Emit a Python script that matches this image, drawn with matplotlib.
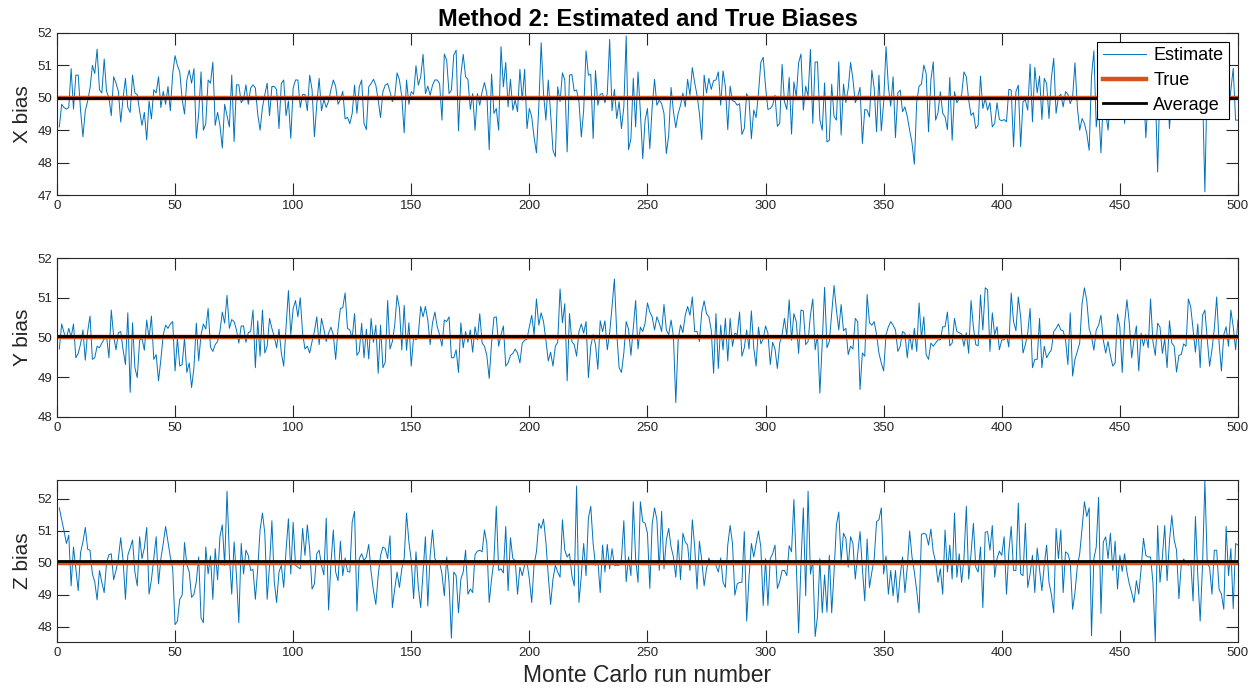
import numpy as np
import matplotlib
matplotlib.use("Agg")
import matplotlib.pyplot as plt

# ---- data (Monte Carlo runs, in 4 chunks per panel) ----
x_bias_1 = [49.1, 49.8, 49.7, 49.65, 49.7, 50.9, 49.65, 50.7, 50.7, 49.6, 48.8, 49.6, 49.9, 50.3, 51.0,
            50.75, 51.5, 50.25, 50.15, 51.2, 50.2, 50.0, 49.45, 50.65, 50.45, 50.2, 49.25, 50.0, 50.6, 49.7,
            49.55, 50.7, 50.15, 50.1, 49.6, 49.15, 49.55, 48.7, 49.9, 49.35, 50.25, 50.15, 50.65, 49.7, 50.2,
            49.8, 50.35, 49.6, 50.75, 51.3, 51.0, 50.8, 49.95, 49.5, 50.55, 50.85, 50.45, 50.9, 48.75, 49.5,
            50.8, 49.0, 49.2, 50.55, 50.45, 51.1, 49.15, 49.55, 49.15, 48.45, 49.8, 49.45, 49.1, 50.7, 48.65,
            50.4, 50.4, 49.85, 49.95, 50.4, 49.8, 50.3, 50.4, 50.3, 49.5, 49.0, 49.7, 50.1, 50.45, 49.45,
            50.35, 50.35, 50.25, 49.05, 50.45, 50.55, 49.45, 49.9, 48.75, 50.3, 50.55, 50.55, 49.7, 50.1, 50.1,
            49.6, 50.7, 50.25, 48.8, 49.8, 50.6, 49.6, 49.95, 49.7, 49.9, 50.25, 50.55, 50.35, 49.8, 49.95,
            50.2, 49.35, 49.4, 49.2]
x_bias_2 = [49.52, 50.39, 49.52, 50.34, 50.55, 49.21, 49.02, 50.34, 50.44, 50.57, 50.39, 49.93, 49.39, 50.19,
            50.39, 50.44, 50.19, 49.88, 50.03, 50.77, 50.55, 50.03, 48.92, 50.55, 49.80, 50.19, 50.11, 50.99,
            50.39, 50.65, 51.34, 50.13, 50.36, 50.08, 50.39, 50.55, 50.55, 50.44, 49.31, 51.35, 51.16, 50.13,
            50.24, 51.32, 51.47, 48.98, 50.70, 51.34, 50.65, 50.57, 49.64, 50.13, 49.0, 50.13, 49.77, 50.19,
            50.47, 50.13, 48.40, 50.73, 49.52, 49.67, 49.0, 51.58, 50.34, 51.09, 49.72, 50.57, 49.62, 49.93,
            49.57, 50.88, 49.93, 50.88, 49.05, 49.67, 49.41, 48.79, 48.30, 49.72, 51.70, 50.13, 49.31, 50.55,
            49.52, 48.38, 48.18, 50.34, 49.88, 50.77, 50.55, 48.33, 50.70, 50.72, 50.21, 50.24, 49.88, 48.79,
            49.62, 51.45, 50.70, 50.72, 48.74, 50.84, 49.77, 50.11, 50.13, 49.85, 50.13, 51.80, 49.60, 50.26,
            49.36, 49.88, 49.05, 49.72, 51.91, 48.40, 48.74, 50.60, 49.10, 50.80, 49.57, 48.12, 49.31, 49.67]
x_bias_3 = [48.43, 49.72, 50.57, 49.77, 49.93, 49.82, 49.52, 48.28, 48.85, 50.32, 49.57, 49.08, 49.52, 49.77,
            50.15, 49.72, 50.57, 50.08, 50.93, 50.46, 50.08, 49.52, 48.71, 50.70, 50.15, 50.60, 50.26, 50.53,
            50.55, 50.80, 49.77, 50.83, 50.34, 49.02, 50.36, 49.91, 49.88, 49.77, 49.82, 48.87, 49.05, 50.13,
            49.95, 48.74, 49.62, 49.39, 50.15, 51.09, 51.25, 50.34, 49.64, 49.67, 49.77, 50.08, 49.12, 49.21,
            51.03, 49.88, 49.64, 50.63, 48.88, 50.49, 50.03, 51.08, 51.35, 49.62, 50.36, 50.05, 51.49, 49.21,
            51.10, 51.11, 49.31, 49.0, 50.46, 48.64, 48.69, 50.42, 49.43, 49.31, 51.11, 48.85, 50.42, 49.85,
            50.29, 51.09, 50.57, 49.85, 50.03, 50.32, 48.59, 49.64, 49.62, 49.41, 50.85, 50.29, 48.95, 50.70,
            48.98, 49.85, 51.58, 50.34, 49.74, 50.65, 48.77, 50.15, 50.24, 49.57, 49.72, 49.43, 49.0, 48.61,
            47.95, 49.88, 50.36, 50.42, 51.01, 50.75, 48.95, 50.55, 51.11, 49.31, 49.54, 50.19, 49.52, 49.41,
            49.02, 50.63, 48.69]
x_bias_4 = [49.05, 50.65, 48.69, 50.19, 50.88, 49.08, 50.13, 50.22, 50.19, 49.85, 49.98, 50.08, 50.80, 50.65,
            49.93, 49.46, 49.54, 49.05, 49.16, 50.67, 49.67, 49.98, 49.62, 49.85, 49.10, 49.21, 49.85, 49.33,
            49.29, 49.33, 49.26, 50.26, 50.24, 48.49, 50.19, 50.39, 48.49, 49.88, 49.93, 49.62, 51.04, 49.26,
            50.94, 50.15, 50.67, 49.33, 50.60, 50.44, 49.36, 50.60, 51.22, 49.52, 50.03, 50.11, 49.72, 50.19,
            50.11, 49.82, 50.03, 51.08, 49.72, 49.0, 49.36, 49.21, 48.90, 48.38, 50.67, 51.45, 49.10, 49.72,
            48.30, 49.98, 49.57, 49.0, 50.03, 50.55, 49.72, 50.24, 49.62, 50.85, 49.21, 50.24, 49.52, 50.44,
            49.82, 50.75, 50.13, 49.52, 50.34, 48.77, 50.03, 50.65, 49.52, 50.24, 47.71, 50.44, 49.72, 50.03,
            50.75, 49.05, 50.13, 49.52, 50.55, 49.82, 50.24, 49.41, 50.85, 50.03, 49.62, 50.34, 49.72, 50.55,
            49.41, 50.24, 47.10, 50.75, 49.93, 49.62, 50.44, 49.52, 50.03, 50.65, 49.72, 50.24, 49.52, 50.24,
            50.91, 49.31, 49.31]

y_bias_1 = [49.71, 50.34, 50.12, 49.98, 50.23, 50.01, 50.34, 49.49, 49.60, 49.84, 50.19, 49.43, 50.15, 50.54,
            49.45, 49.49, 49.78, 49.74, 49.86, 49.96, 50.04, 49.49, 50.69, 50.04, 49.69, 50.12, 50.15, 49.69,
            49.32, 50.62, 48.62, 50.37, 49.24, 48.99, 49.93, 49.98, 49.68, 50.44, 49.98, 50.54, 49.45, 49.57,
            48.91, 49.45, 50.07, 50.31, 50.23, 50.34, 50.40, 49.16, 49.98, 49.28, 49.32, 49.98, 49.12, 49.36,
            48.74, 49.24, 50.36, 49.41, 50.07, 50.34, 50.21, 50.73, 49.76, 49.65, 49.82, 49.90, 50.15, 50.64,
            50.36, 51.06, 50.23, 50.45, 50.40, 50.19, 49.86, 50.29, 50.29, 49.88, 50.12, 50.15, 50.69, 49.24,
            50.42, 49.53, 50.69, 49.61, 49.78, 50.48, 50.23, 50.02, 49.74, 50.21, 49.61, 49.28, 50.27, 51.18,
            50.07, 50.73, 50.93, 50.52, 51.0, 50.11, 49.71, 49.78, 49.61, 49.90, 50.15, 50.52, 49.82, 50.48,
            50.21, 49.90, 50.11, 50.26, 50.07, 49.45, 50.21, 50.73, 50.75, 51.12, 50.23, 50.19]
y_bias_2 = [49.98, 50.60, 49.55, 49.65, 50.36, 49.49, 50.21, 49.46, 50.48, 49.88, 50.31, 49.10, 50.31, 49.24,
            49.38, 50.93, 49.71, 49.90, 50.31, 51.06, 50.73, 49.69, 50.81, 49.68, 50.37, 49.28, 50.02, 49.94,
            50.07, 50.78, 50.52, 50.78, 50.44, 49.82, 50.37, 50.64, 50.27, 50.07, 49.78, 50.44, 50.40, 50.52,
            49.49, 49.49, 49.69, 49.12, 50.37, 49.74, 50.15, 49.88, 50.19, 49.63, 50.27, 49.94, 50.60, 49.86,
            49.78, 49.55, 48.97, 49.86, 50.50, 50.52, 49.78, 50.07, 50.29, 49.28, 49.36, 49.55, 49.60, 49.71,
            49.61, 49.36, 49.86, 49.93, 49.96, 50.27, 50.56, 50.07, 50.97, 50.31, 50.62, 50.40, 49.94, 49.41,
            49.63, 49.28, 49.78, 49.88, 51.22, 50.37, 50.85, 48.91, 50.60, 49.90, 49.82, 49.53, 50.15, 50.34,
            50.11, 50.40, 48.99, 49.78, 50.07, 49.82, 49.20, 50.42, 50.15, 50.42, 49.69, 50.12, 50.77, 51.47,
            50.11, 49.24, 49.12, 49.61, 50.40, 50.21, 49.55, 50.23, 50.93, 49.71, 50.26, 50.15, 50.36, 50.87,
            50.64, 50.52, 50.19]
y_bias_3 = [50.52, 50.36, 50.15, 50.83, 50.19, 50.07, 50.44, 50.02, 48.36, 49.94, 50.31, 50.12, 50.56, 50.78,
            50.56, 51.02, 50.15, 50.15, 49.90, 50.64, 50.92, 50.60, 50.52, 50.19, 49.10, 50.60, 49.22, 50.31,
            49.69, 50.48, 49.41, 50.48, 49.78, 50.11, 50.07, 50.64, 49.53, 49.74, 50.19, 49.71, 50.67, 49.74,
            49.28, 50.26, 49.84, 49.96, 50.29, 50.11, 49.32, 49.88, 49.71, 49.22, 49.86, 50.07, 50.48, 50.04,
            50.95, 49.93, 50.60, 50.40, 49.60, 50.69, 50.67, 49.82, 49.90, 50.56, 50.97, 49.69, 50.07, 48.60,
            49.86, 51.26, 49.74, 49.90, 50.60, 51.31, 50.69, 50.19, 50.83, 50.17, 50.23, 49.57, 49.78, 49.71,
            50.48, 50.40, 48.69, 49.61, 49.53, 51.08, 50.37, 50.31, 50.40, 50.07, 49.61, 49.36, 49.16, 50.07,
            50.27, 50.40, 50.31, 50.19, 49.65, 49.78, 50.15, 50.11, 49.49, 50.07, 49.69, 50.23, 49.65, 50.87,
            49.98, 50.52, 49.57, 49.45, 49.86, 49.78, 49.86, 49.94, 49.94, 50.27, 50.27, 50.64, 49.79, 49.86,
            50.48, 50.15, 50.12, 50.09]
y_bias_4 = [50.07, 50.12, 50.02, 49.78, 49.28, 50.11, 50.69, 49.86, 50.21, 50.12, 50.19, 50.52, 50.15, 49.78,
            50.12, 49.60, 50.93, 50.26, 49.82, 49.79, 51.07, 50.19, 51.25, 51.20, 49.65, 50.62, 50.07, 50.27,
            49.69, 49.94, 49.94, 50.07, 49.76, 51.12, 50.40, 50.17, 51.02, 50.52, 49.61, 49.82, 50.11, 50.73,
            49.24, 49.45, 49.45, 50.48, 49.24, 49.78, 49.49, 49.60, 49.69, 50.15, 50.23, 50.34, 50.19, 50.17,
            49.94, 49.32, 50.62, 49.03, 49.45, 49.65, 49.86, 50.85, 51.25, 50.93, 50.23, 50.02, 49.68, 50.19,
            50.31, 50.56, 49.93, 49.61, 49.90, 49.55, 49.28, 49.36, 50.59, 50.27, 49.12, 50.37, 50.95, 50.36,
            49.49, 49.94, 50.29, 49.16, 50.11, 49.79, 50.07, 49.74, 50.97, 49.90, 49.55, 50.36, 50.26, 49.60,
            49.96, 49.24, 50.42, 49.86, 49.78, 49.13, 49.55, 49.57, 49.84, 49.78, 50.97, 50.77, 50.19, 49.63,
            50.34, 49.24, 50.56, 50.69, 49.96, 49.28, 49.69, 50.23, 51.02, 49.88, 49.16, 50.07, 50.27, 49.78,
            50.69, 50.27, 49.69, 50.44]

z_bias_1 = [51.71, 51.34, 50.99, 50.60, 50.86, 49.28, 50.49, 49.81, 49.13, 50.32, 50.65, 51.10, 50.42, 50.39,
            49.65, 49.41, 48.84, 49.76, 49.39, 49.07, 50.0, 50.25, 50.28, 49.47, 49.76, 50.13, 50.78, 50.07,
            48.86, 50.23, 50.46, 50.71, 49.71, 49.28, 50.81, 50.13, 50.46, 51.10, 49.02, 49.47, 50.13, 50.81,
            49.34, 50.13, 50.60, 51.13, 50.65, 50.18, 49.81, 48.07, 48.18, 48.86, 48.99, 50.63, 49.94, 49.71,
            48.92, 49.02, 49.41, 50.18, 48.28, 48.13, 50.49, 49.65, 50.21, 48.86, 50.44, 49.47, 50.81, 51.18,
            49.92, 52.23, 50.23, 49.02, 50.65, 49.60, 48.13, 50.60, 49.65, 50.39, 50.23, 49.76, 49.79, 48.86,
            49.81, 51.02, 51.55, 50.92, 48.86, 49.92, 51.31, 49.41, 48.76, 49.71, 49.92, 49.23, 50.39, 51.37,
            49.65, 51.26, 49.92, 49.86, 49.81, 51.07, 50.23, 51.18, 50.42, 49.18, 49.34, 50.28, 50.39, 49.92,
            49.62, 51.39, 48.53, 49.97, 51.02, 49.71, 49.44, 50.67, 49.60, 50.15, 49.73, 49.71]
z_bias_2 = [51.28, 51.60, 48.49, 50.13, 50.28, 50.07, 50.18, 50.57, 49.71, 49.13, 48.70, 49.60, 50.23, 50.49,
            50.44, 50.13, 50.84, 48.60, 49.18, 49.71, 49.23, 49.81, 50.13, 51.55, 50.65, 50.07, 48.88, 50.34,
            49.23, 48.60, 49.71, 50.81, 48.65, 50.23, 51.02, 50.13, 50.0, 50.02, 49.65, 48.97, 50.18, 49.39,
            47.65, 49.71, 49.60, 48.44, 49.49, 49.71, 50.39, 49.02, 49.18, 49.07, 50.25, 50.36, 50.39, 50.34,
            51.02, 50.60, 48.76, 49.49, 50.07, 51.76, 49.76, 49.81, 49.68, 51.13, 49.13, 50.78, 50.13, 50.07,
            49.02, 49.86, 49.60, 49.92, 50.02, 49.49, 48.76, 49.94, 50.34, 51.23, 51.07, 51.36, 50.65, 49.60,
            48.70, 49.49, 49.92, 49.71, 49.55, 51.34, 50.39, 50.18, 50.28, 49.60, 49.28, 52.39, 48.76, 49.60,
            50.60, 49.60, 51.39, 51.76, 50.60, 49.92, 50.07, 49.07, 50.55, 49.71, 50.57, 49.81, 50.44, 49.92,
            49.92, 49.92, 50.13, 51.31, 49.41, 50.18, 49.60, 51.90, 50.13, 49.39, 51.90, 51.28, 51.23, 50.92,
            49.20, 51.20, 51.71, 51.34, 49.76]
z_bias_3 = [51.60, 49.81, 50.71, 51.07, 50.49, 50.18, 49.55, 50.71, 49.47, 50.92, 50.65, 50.55, 49.76, 51.34,
            50.49, 49.18, 50.67, 50.07, 49.28, 49.81, 50.15, 49.97, 50.02, 49.92, 49.71, 50.15, 49.39, 49.23,
            50.55, 51.16, 50.60, 48.99, 49.34, 49.39, 49.39, 50.97, 48.18, 49.55, 50.60, 50.18, 50.60, 50.99,
            50.49, 48.67, 50.13, 48.67, 50.13, 50.28, 50.55, 49.20, 49.41, 49.76, 49.76, 49.60, 50.53, 50.34,
            51.97, 49.97, 47.81, 49.97, 51.71, 48.97, 52.23, 49.65, 50.07, 47.70, 48.34, 50.13, 48.44, 49.62,
            48.46, 50.23, 48.44, 49.71, 51.18, 51.58, 50.07, 50.92, 50.76, 49.86, 50.81, 50.60, 49.49, 50.28,
            50.97, 49.81, 48.81, 50.74, 49.23, 49.71, 50.13, 51.28, 51.34, 51.71, 49.65, 50.21, 49.02, 49.76,
            48.97, 49.76, 48.76, 49.60, 50.18, 49.07, 49.86, 50.99, 50.18, 49.71, 49.13, 48.44, 50.88, 50.92,
            50.88, 50.55, 51.05, 50.34, 50.02, 49.39, 49.81, 49.02, 51.02, 49.71, 50.55, 49.49, 51.55, 49.55,
            50.28, 49.39, 50.13, 51.76, 49.49, 50.28]
z_bias_4 = [51.76, 49.47, 49.81, 50.84, 50.18, 51.18, 50.84, 51.05, 49.71, 49.47, 49.44, 49.81, 49.28, 47.92,
            50.02, 50.55, 50.71, 51.23, 49.86, 49.71, 50.49, 48.60, 50.95, 50.97, 50.39, 51.16, 49.55, 50.13,
            50.36, 50.23, 50.81, 49.02, 50.34, 51.13, 49.76, 49.76, 51.86, 49.65, 49.60, 51.23, 49.23, 49.65,
            50.23, 49.07, 50.46, 49.81, 49.13, 49.92, 50.55, 49.39, 49.02, 48.44, 51.07, 50.13, 51.02, 49.07,
            50.34, 50.28, 50.02, 48.55, 49.07, 49.89, 50.28, 51.07, 51.90, 51.44, 51.71, 47.73, 50.13, 50.49,
            52.04, 48.42, 50.65, 50.81, 50.13, 50.92, 49.76, 50.67, 49.18, 50.23, 49.73, 50.28, 49.71, 49.34,
            49.07, 48.76, 49.44, 49.02, 49.81, 50.76, 50.23, 50.18, 50.18, 49.39, 47.55, 51.16, 49.39, 50.18,
            51.16, 49.44, 50.67, 51.47, 50.71, 50.39, 48.88, 49.94, 50.11, 50.02, 49.92, 50.07, 48.81, 51.44,
            49.60, 48.18, 49.92, 52.55, 49.97, 49.86, 49.02, 50.39, 50.39, 49.18, 49.02, 48.55, 51.13, 49.60,
            50.44, 48.57, 50.60, 50.55]

true_bias = 50.0
avg_bias = [49.98, 50.04, 50.04]
ylabels = ["X bias", "Y bias", "Z bias"]
ylims = [(47, 52), (48, 52), (47.53, 52.58)]
yticks = [[47, 48, 49, 50, 51, 52], [48, 49, 50, 51, 52], [48, 49, 50, 51, 52]]
n_runs = 500


def join_chunks(a, b, c, d):
    head = a + b + c
    need = n_runs - len(head)
    return np.array(head + d[len(d) - need:])


series = [
    join_chunks(x_bias_1, x_bias_2, x_bias_3, x_bias_4),
    join_chunks(y_bias_1, y_bias_2, y_bias_3, y_bias_4),
    join_chunks(z_bias_1, z_bias_2, z_bias_3, z_bias_4),
]

plt.rcParams["font.family"] = ["Liberation Sans", "DejaVu Sans"]
axis_color = "#262626"

fig = plt.figure(figsize=(12.6, 6.96), dpi=100)
boxes = [
    [0.0452, 0.7198, 0.9373, 0.2328],
    [0.0452, 0.4009, 0.9373, 0.2284],
    [0.0452, 0.0776, 0.9373, 0.2328],
]

for i, est in enumerate(series):
    ax = fig.add_axes(boxes[i])
    runs = np.arange(1, len(est) + 1)
    ax.plot(runs, est, color="#0072BD", lw=0.7, label="Estimate")
    ax.axhline(true_bias, color="#D95319", lw=3.2, label="True")
    ax.axhline(avg_bias[i], color="black", lw=2.0, label="Average")

    ax.set_xlim(0, 500)
    ax.set_ylim(*ylims[i])
    ax.set_xticks(np.arange(0, 501, 50))
    ax.set_yticks(yticks[i])
    ax.set_ylabel(ylabels[i], fontsize=15, color=axis_color)
    ax.tick_params(direction="in", top=True, right=True, length=8.5, width=0.8,
                   labelsize=9.5, colors=axis_color)
    for s in ax.spines.values():
        s.set_color(axis_color)
        s.set_linewidth(0.8)

    if i == 0:
        ax.set_title("Method 2: Estimated and True Biases", fontsize=17,
                     fontweight="bold", pad=5)
        leg = ax.legend(loc="upper right", fontsize=13, handlelength=2.4,
                        labelspacing=0.42, borderaxespad=0.5, fancybox=False,
                        framealpha=1, borderpad=0.3, handletextpad=0.4)
        leg.get_frame().set_edgecolor("black")
        leg.get_frame().set_linewidth(0.8)
    if i == 2:
        ax.set_xlabel("Monte Carlo run number", fontsize=16.5, color=axis_color)

fig.savefig("out.png", dpi=100)
